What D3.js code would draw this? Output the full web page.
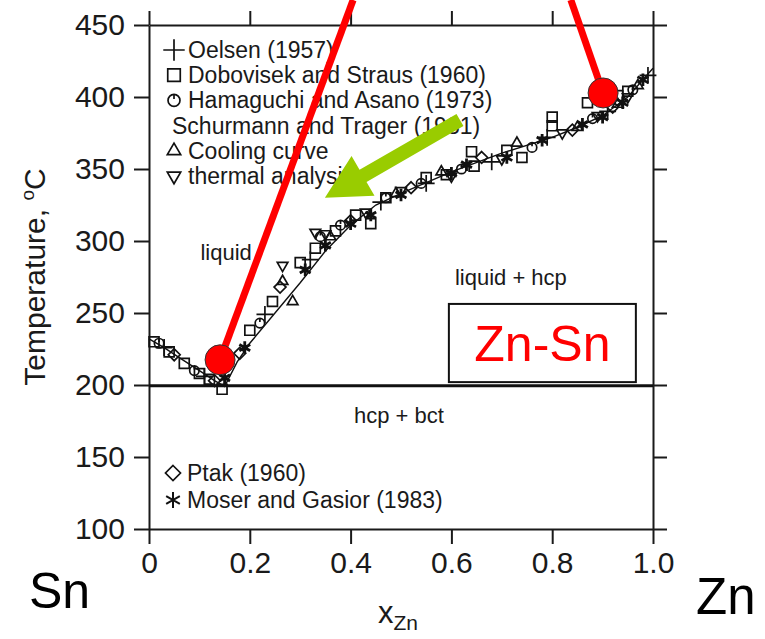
<!DOCTYPE html>
<html>
<head>
<meta charset="utf-8">
<script src="https://cdn.jsdelivr.net/npm/d3@7"></script>
<style>
body { margin: 0; background: #fff; }
svg { font-family: "Liberation Sans", Arial, Helvetica, sans-serif; }
.axis path, .axis line { stroke: #1a1a1a; stroke-width: 2; }
.axis text { fill: #1a1a1a; }
</style>
</head>
<body>
<div id="chart"></div>
<script>
// ticks
var xTicks = [0, 0.2, 0.4, 0.6, 0.8, 1.0];
var yTicks = [100, 150, 200, 250, 300, 350, 400, 450];

// liquidus curve (x_Zn, T in C)
var liquidusX = [0, 0.03, 0.06, 0.10, 0.13, 0.15, 0.175, 0.2, 0.25, 0.3, 0.35, 0.4, 0.45, 0.5, 0.6, 0.7, 0.8, 0.85, 0.9, 0.95, 1.0];
var liquidusT = [232, 226, 219, 210, 203, 199, 216, 229, 250, 271, 293, 311, 325, 333, 348, 361, 372, 379, 387, 400, 420];
var eutecticT = 199.5;

// measured points
var oelsen = [[0.03, 226], [0.11, 206], [0.23, 249], [0.32, 287], [0.46, 327], [0.55, 340], [0.68, 355], [0.79, 372], [0.91, 390], [0.99, 415]];
var dobovisek = [[0.01, 230], [0.04, 223], [0.07, 215], [0.10, 208], [0.12, 204], [0.145, 197], [0.2, 238], [0.245, 258],
    [0.3, 285], [0.33, 295], [0.37, 307], [0.41, 318], [0.44, 312], [0.47, 330], [0.55, 344], [0.59, 346], [0.64, 362],
    [0.645, 352], [0.71, 363], [0.74, 358], [0.80, 386], [0.80, 380], [0.87, 396], [0.93, 401], [0.95, 404]];
var hamaguchi = [[0.02, 229], [0.09, 210], [0.22, 243], [0.34, 303], [0.38, 311], [0.47, 330], [0.54, 340], [0.62, 350], [0.76, 365], [0.88, 385], [0.96, 405]];
var coolingCurve = [[0.265, 272], [0.285, 258], [0.36, 303], [0.49, 333], [0.58, 348], [0.73, 368], [0.85, 379], [0.93, 395], [0.97, 408]];
var thermalAnalysis = [[0.265, 283], [0.33, 306], [0.35, 305], [0.43, 320], [0.50, 335], [0.60, 345], [0.70, 357], [0.82, 375], [0.89, 387], [0.95, 400]];
var ptak = [[0.05, 221], [0.13, 203], [0.18, 222], [0.26, 268], [0.40, 314], [0.52, 337], [0.66, 358], [0.84, 377], [0.92, 393]];
var moser = [[0.15, 205], [0.19, 226], [0.31, 280], [0.35, 297], [0.40, 312], [0.44, 318], [0.50, 332], [0.60, 347], [0.63, 353],
    [0.71, 358], [0.78, 370], [0.86, 381], [0.90, 386], [0.94, 396], [0.98, 412]];

// annotations (data coords)
var redDots = [[0.141, 217.5], [0.901, 402.8]];
var redTops = [[0.405, 467.4], [0.837, 467.4]];
var arrowTail = [0.617, 384];
var arrowTip = [0.349, 330];

var margin = { top: 25, right: 112, bottom: 110, left: 149 };
var width = 765 - margin.left - margin.right;
var height = 639 - margin.top - margin.bottom;

var svg = d3.select("#chart").append("svg")
    .attr("width", 765)
    .attr("height", 639);

var g = svg.append("g")
    .attr("transform", "translate(" + margin.left + "," + margin.top + ")");

var x = d3.scaleLinear().domain([0, 1]).range([0, width]);
var y = d3.scaleLinear().domain([100, 450]).range([height, 0]);

// hamaguchi marker: circle with a small stroke on top
var circleTick = {
    draw: function (ctx, size) {
        var r = Math.sqrt(size / Math.PI);
        ctx.moveTo(r, 0);
        ctx.arc(0, 0, r, 0, 2 * Math.PI);
        ctx.moveTo(0, -r);
        ctx.lineTo(0, -r * 0.25);
    }
};

var series = [
    { data: oelsen, type: d3.symbolPlus, size: 95, rot: 0, sw: 1.7 },
    { data: dobovisek, type: d3.symbolSquare2, size: 125, rot: 0, sw: 1.7 },
    { data: hamaguchi, type: circleTick, size: 70, rot: 0, sw: 1.7 },
    { data: coolingCurve, type: d3.symbolTriangle2, size: 80, rot: 0, sw: 1.7 },
    { data: thermalAnalysis, type: d3.symbolTriangle2, size: 80, rot: 180, sw: 1.7 },
    { data: ptak, type: d3.symbolDiamond2, size: 90, rot: 0, sw: 1.7 },
    { data: moser, type: d3.symbolAsterisk, size: 110, rot: 0, sw: 2.8 }
];

// axes
g.append("g").attr("class", "axis")
    .attr("transform", "translate(0," + height + ")")
    .call(d3.axisBottom(x).tickValues(xTicks).tickSize(15).tickSizeOuter(0).tickPadding(8)
        .tickFormat(function (d) { return d === 0 ? "0" : d3.format(".1f")(d); }))
    .selectAll("text").style("font-size", "30px");

g.append("g").attr("class", "axis")
    .call(d3.axisTop(x).tickValues(xTicks).tickSize(14).tickSizeOuter(0).tickFormat(""));

g.append("g").attr("class", "axis")
    .call(d3.axisLeft(y).tickValues(yTicks).tickSize(15).tickSizeOuter(0).tickPadding(9))
    .selectAll("text").style("font-size", "30px");

g.append("g").attr("class", "axis")
    .attr("transform", "translate(" + width + ",0)")
    .call(d3.axisRight(y).tickValues(yTicks).tickSize(14).tickSizeOuter(0).tickFormat(""));

// eutectic line
g.append("line")
    .attr("x1", x(0)).attr("x2", x(1))
    .attr("y1", y(eutecticT)).attr("y2", y(eutecticT))
    .attr("stroke", "#111").attr("stroke-width", 3);

// liquidus
var line = d3.line()
    .x(function (d, i) { return x(liquidusX[i]); })
    .y(function (d) { return y(d); });

g.append("path")
    .datum(liquidusT)
    .attr("d", line)
    .attr("fill", "none")
    .attr("stroke", "#111")
    .attr("stroke-width", 1.4);

// markers
series.forEach(function (s) {
    g.append("g").selectAll("path")
        .data(s.data)
        .enter().append("path")
        .attr("d", d3.symbol().type(s.type).size(s.size))
        .attr("transform", function (d) {
            return "translate(" + x(d[0]) + "," + y(d[1]) + ") rotate(" + s.rot + ")";
        })
        .attr("fill", "none")
        .attr("stroke", "#111")
        .attr("stroke-width", s.sw);
});

// legends
var legendTop = [
    { label: "Oelsen (1957)", s: series[0] },
    { label: "Dobovisek and Straus (1960)", s: series[1] },
    { label: "Hamaguchi and Asano (1973)", s: series[2] },
    { label: "Schurmann and Trager (1981)", s: null },
    { label: "Cooling curve", s: series[3] },
    { label: "thermal analysis", s: series[4] }
];
var legendBottom = [
    { label: "Ptak (1960)", s: series[5] },
    { label: "Moser and Gasior (1983)", s: series[6] }
];

function drawLegend(items, x0, y0, step) {
    var lg = g.append("g").attr("transform", "translate(" + x0 + "," + y0 + ")");
    items.forEach(function (it, i) {
        var row = lg.append("g").attr("transform", "translate(0," + (i * step) + ")");
        if (it.s) {
            row.append("path")
                .attr("d", d3.symbol().type(it.s.type).size(it.s.size * 1.6))
                .attr("transform", "rotate(" + it.s.rot + ")")
                .attr("fill", "none")
                .attr("stroke", "#111")
                .attr("stroke-width", Math.min(it.s.sw, 2));
        }
        row.append("text")
            .attr("x", it.s ? 14 : -2)
            .attr("dy", "0.35em")
            .style("font-size", "23px")
            .attr("fill", "#1a1a1a")
            .text(it.label);
    });
}
drawLegend(legendTop, 25, 25, 25.2);
drawLegend(legendBottom, 24, 448, 27);

// region labels
var regions = [
    { t: "liquid", x: 0.153, T: 292 },
    { t: "liquid + hcp", x: 0.718, T: 275 },
    { t: "hcp + bct", x: 0.496, T: 179 }
];
g.selectAll(".region")
    .data(regions)
    .enter().append("text")
    .attr("x", function (d) { return x(d.x); })
    .attr("y", function (d) { return y(d.T); })
    .attr("dy", "0.35em")
    .attr("text-anchor", "middle")
    .style("font-size", "22px")
    .attr("fill", "#1a1a1a")
    .text(function (d) { return d.t; });

// Zn-Sn box
g.append("rect")
    .attr("x", x(0.595)).attr("y", y(256.3))
    .attr("width", x(0.966) - x(0.595))
    .attr("height", y(202) - y(256.3))
    .attr("fill", "#fff")
    .attr("stroke", "#111")
    .attr("stroke-width", 2);
g.append("text")
    .attr("x", (x(0.595) + x(0.966)) / 2)
    .attr("y", y(229))
    .attr("dy", "0.36em")
    .attr("text-anchor", "middle")
    .style("font-size", "50px")
    .attr("fill", "#ff0000")
    .text("Zn-Sn");

// green arrow
var tx = x(arrowTail[0]), ty = y(arrowTail[1]);
var hx = x(arrowTip[0]), hy = y(arrowTip[1]);
var len = Math.hypot(hx - tx, hy - ty);
var ux = (hx - tx) / len, uy = (hy - ty) / len;
var px = -uy, py = ux;
var sw = 7, hl = 44, hw = 23;
var bx = hx - ux * hl, by = hy - uy * hl;
var arrowPts = [
    [tx + px * sw, ty + py * sw],
    [bx + px * sw, by + py * sw],
    [bx + px * hw, by + py * hw],
    [hx, hy],
    [bx - px * hw, by - py * hw],
    [bx - px * sw, by - py * sw],
    [tx - px * sw, ty - py * sw]
];
g.append("polygon")
    .attr("points", arrowPts.map(function (p) { return p.join(","); }).join(" "))
    .attr("fill", "#99cc00");

// red lines and dots
redDots.forEach(function (d, i) {
    g.append("line")
        .attr("x1", x(redTops[i][0])).attr("y1", y(redTops[i][1]))
        .attr("x2", x(d[0])).attr("y2", y(d[1]))
        .attr("stroke", "#ff0000")
        .attr("stroke-width", 7);
});
g.selectAll(".dot")
    .data(redDots)
    .enter().append("circle")
    .attr("cx", function (d) { return x(d[0]); })
    .attr("cy", function (d) { return y(d[1]); })
    .attr("r", 15)
    .attr("fill", "#ff0000")
    .attr("stroke", "#333")
    .attr("stroke-width", 1);

// axis titles
svg.append("text")
    .attr("transform", "translate(45,277) rotate(-90)")
    .attr("text-anchor", "middle")
    .style("font-size", "30px")
    .attr("fill", "#1a1a1a")
    .html('Temperature, <tspan font-size="19px" dy="-11">o</tspan><tspan dy="11">C</tspan>');

svg.append("text")
    .attr("x", 378).attr("y", 623)
    .style("font-size", "31px")
    .attr("fill", "#1a1a1a")
    .html('x<tspan font-size="21px" dy="7">Zn</tspan>');

svg.append("text")
    .attr("x", 29).attr("y", 608)
    .style("font-size", "50px")
    .attr("fill", "#000")
    .text("Sn");
svg.append("text")
    .attr("x", 696).attr("y", 614)
    .style("font-size", "51px")
    .attr("fill", "#000")
    .text("Zn");
</script>
</body>
</html>
